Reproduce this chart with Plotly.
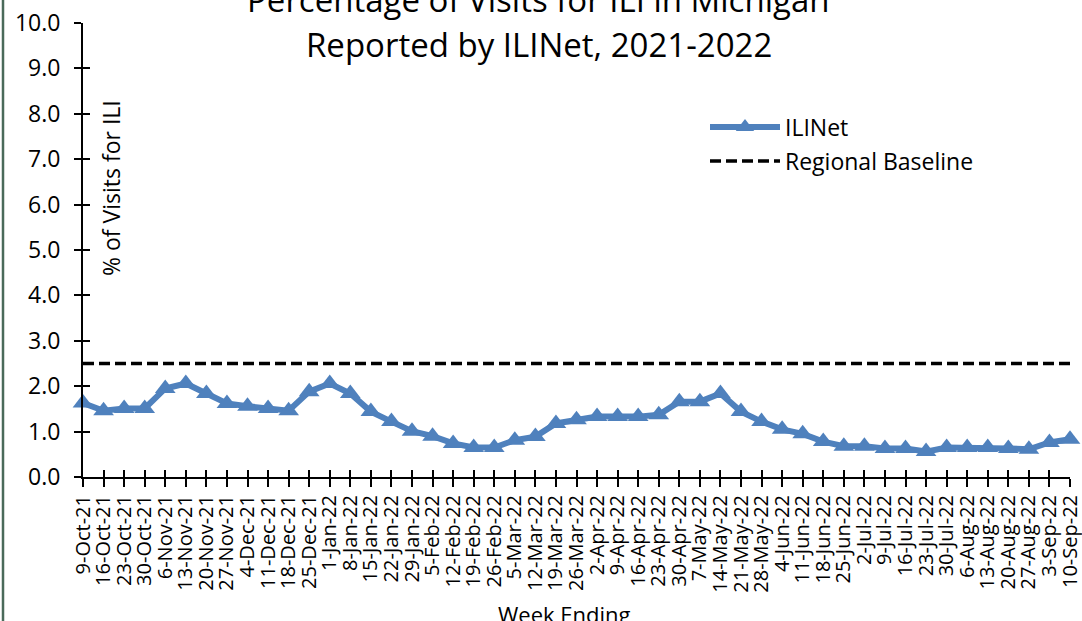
import plotly.graph_objects as go

weeks = ["9-Oct-21", "16-Oct-21", "23-Oct-21", "30-Oct-21", "6-Nov-21", "13-Nov-21",
         "20-Nov-21", "27-Nov-21", "4-Dec-21", "11-Dec-21", "18-Dec-21", "25-Dec-21",
         "1-Jan-22", "8-Jan-22", "15-Jan-22", "22-Jan-22", "29-Jan-22", "5-Feb-22",
         "12-Feb-22", "19-Feb-22", "26-Feb-22", "5-Mar-22", "12-Mar-22", "19-Mar-22",
         "26-Mar-22", "2-Apr-22", "9-Apr-22", "16-Apr-22", "23-Apr-22", "30-Apr-22",
         "7-May-22", "14-May-22", "21-May-22", "28-May-22", "4-Jun-22", "11-Jun-22",
         "18-Jun-22", "25-Jun-22", "2-Jul-22", "9-Jul-22", "16-Jul-22", "23-Jul-22",
         "30-Jul-22", "6-Aug-22", "13-Aug-22", "20-Aug-22", "27-Aug-22", "3-Sep-22",
         "10-Sep-22"]

ilinet = [1.63, 1.46, 1.51, 1.51, 1.95, 2.06, 1.84, 1.62, 1.56, 1.51, 1.46, 1.88,
          2.06, 1.84, 1.44, 1.22, 1.01, 0.90, 0.74, 0.65, 0.65, 0.81, 0.89, 1.18,
          1.26, 1.33, 1.33, 1.33, 1.37, 1.66, 1.66, 1.84, 1.44, 1.22, 1.05, 0.95,
          0.78, 0.68, 0.68, 0.63, 0.63, 0.56, 0.65, 0.65, 0.65, 0.63, 0.61, 0.76,
          0.83]

baseline = [2.5] * len(weeks)

y_ticks = [0, 1, 2, 3, 4, 5, 6, 7, 8, 9, 10]
y_tick_labels = ["0.0", "1.0", "2.0", "3.0", "4.0", "5.0", "6.0", "7.0", "8.0", "9.0", "10.0"]

FONT = "Open Sans"
W, H = 1082, 621
L, R, T, B = 83, 12, 23, 144
PW, PH = W - L - R, H - T - B


def px_x(p):
    return (p - L) / PW


def px_y(p):
    return (H - B - p) / PH


fig = go.Figure()

fig.add_trace(go.Scatter(
    x=weeks, y=baseline, mode="lines", name="Regional Baseline",
    line=dict(color="black", width=3.5, dash="11px,5px"),
    cliponaxis=False, legend="legend2", hoverinfo="skip"))

fig.add_trace(go.Scatter(
    x=weeks, y=ilinet, mode="lines+markers", name="ILINet",
    line=dict(color="#4F81BD", width=6),
    marker=dict(symbol="triangle-up", size=18, color="#4F81BD"),
    cliponaxis=False, legend="legend"))

# invisible trace for the overlay axes (cross tick marks)
fig.add_trace(go.Scatter(
    x=weeks, y=baseline, mode="markers", xaxis="x2", yaxis="y2",
    marker=dict(opacity=0), showlegend=False, hoverinfo="skip"))

n = len(weeks)
fig.update_layout(
    width=W, height=H,
    margin=dict(l=L, r=R, t=T, b=B, autoexpand=False),
    paper_bgcolor="white", plot_bgcolor="white",
    font=dict(family=FONT, color="black"),
    xaxis=dict(type="category", range=[0, n - 1], dtick=1,
               showgrid=False, zeroline=False, automargin=False,
               showline=True, linecolor="black", linewidth=2,
               ticks="outside", ticklen=8, tickwidth=2, tickcolor="black",
               tickangle=-90, tickfont=dict(family=FONT, size=20, color="black")),
    yaxis=dict(range=[0, 10], tickvals=y_ticks, ticktext=y_tick_labels,
               showgrid=False, zeroline=False, automargin=False,
               showline=True, linecolor="black", linewidth=2,
               ticks="outside", ticklen=7, tickwidth=2, tickcolor="black",
               ticklabelstandoff=9,
               tickfont=dict(family=FONT, size=23, color="black")),
    xaxis2=dict(type="category", range=[0, n - 1], dtick=1, overlaying="x",
                anchor="y2", side="bottom", showgrid=False, zeroline=False,
                showline=False, showticklabels=False,
                ticks="inside", ticklen=7, tickwidth=2, tickcolor="black"),
    yaxis2=dict(range=[0, 10], tickvals=y_ticks, overlaying="y", anchor="x2",
                side="left", showgrid=False, zeroline=False, showline=False,
                showticklabels=False,
                ticks="inside", ticklen=7, tickwidth=2, tickcolor="black"),
    legend=dict(x=px_x(705), y=px_y(127), xanchor="left", yanchor="middle",
                bgcolor="rgba(0,0,0,0)", itemwidth=70,
                font=dict(family=FONT, size=23, color="black")),
    legend2=dict(x=px_x(705), y=px_y(161), xanchor="left", yanchor="middle",
                 bgcolor="rgba(0,0,0,0)", itemwidth=70,
                 font=dict(family=FONT, size=23, color="black")),
    showlegend=True,
)

fig.add_annotation(text="Percentage of Visits for ILI in Michigan",
                   xref="paper", yref="paper", x=px_x(538), y=px_y(-1),
                   xanchor="center", yanchor="middle", showarrow=False,
                   font=dict(family=FONT, size=33, color="black"))
fig.add_annotation(text="Reported by ILINet, 2021-2022",
                   xref="paper", yref="paper", x=px_x(539), y=px_y(44),
                   xanchor="center", yanchor="middle", showarrow=False,
                   font=dict(family=FONT, size=33, color="black"))
fig.add_annotation(text="% of Visits for ILI", textangle=-90,
                   xref="paper", yref="paper", x=px_x(111), y=px_y(188),
                   xanchor="center", yanchor="middle", showarrow=False,
                   font=dict(family=FONT, size=23, color="black"))
fig.add_annotation(text="Week Ending",
                   xref="paper", yref="paper", x=px_x(564), y=px_y(614),
                   xanchor="center", yanchor="middle", showarrow=False,
                   font=dict(family=FONT, size=22, color="black"))

fig.add_shape(type="line", xref="paper", yref="paper",
              x0=px_x(3), x1=px_x(3), y0=px_y(0), y1=px_y(H),
              line=dict(color="#4a6a5a", width=2.5))

fig.write_html("out.html",
               config={"displayModeBar": False},
               post_script="document.body.style.margin='0px';"
                           "document.body.style.padding='0px';")
